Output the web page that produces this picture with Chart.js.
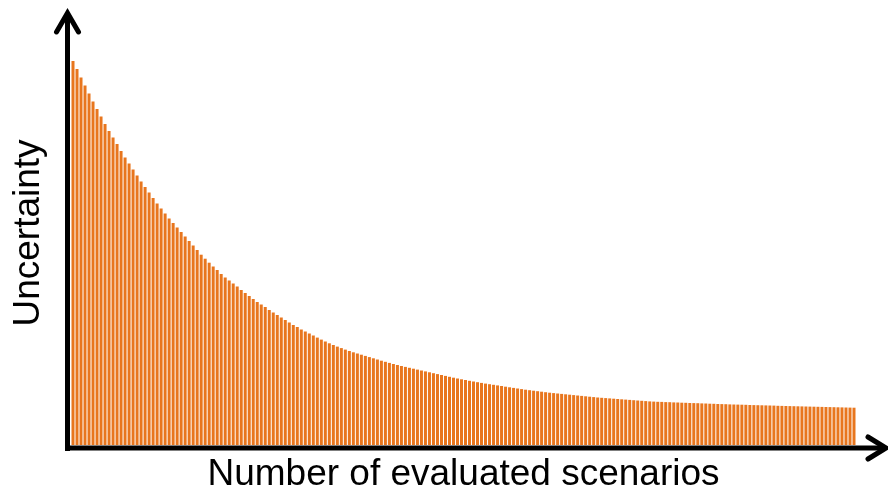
<!DOCTYPE html>
<html>
<head>
<meta charset="utf-8">
<title>Uncertainty vs evaluated scenarios</title>
<script src="https://cdn.jsdelivr.net/npm/chart.js@4.4.1/dist/chart.umd.min.js"></script>
<style>
  html, body { margin: 0; padding: 0; background: #ffffff; }
  #wrap { width: 888px; height: 495px; position: relative; }
</style>
</head>
<body>
<div id="wrap"><canvas id="uncertaintyChart"></canvas></div>
<script>
// Uncertainty for each evaluated scenario (arbitrary units)
const uncertainty = [
  384, 376, 367.5, 359.5, 351.5, 343.5, 336, 328.5, 321, 314,
  307.5, 301, 294, 287.5, 281.5, 275.5, 269.5, 263.5, 258, 252.5,
  247, 241.5, 236.5, 231.5, 226.5, 222, 217.5, 213, 208.5, 204,
  199.5, 195, 190.3, 186.3, 182.3, 178.5, 175, 171, 167.5, 164.5,
  161.5, 158.5, 155, 152, 149, 146, 143, 140.5, 138, 135,
  132.5, 130, 127.5, 125, 122.5, 120, 118, 115.5, 113.5, 111.5,
  109.5, 107.4, 105.4, 103.5, 101.7, 100, 98.4, 96.9, 95.4, 94,
  92.7, 91.5, 90.3, 89.1, 87.9, 86.7, 85.5, 84.3, 83.2, 82.1,
  81, 80, 79, 78.1, 77.2, 76.3, 75.4, 74.5, 73.6, 72.7,
  71.8, 70.9, 70, 69.1, 68.2, 67.3, 66.5, 65.7, 65, 64.2,
  63.5, 62.8, 62.1, 61.4, 60.8, 60.2, 59.6, 59, 58.3, 57.7,
  57.1, 56.5, 55.9, 55.3, 54.8, 54.3, 53.8, 53.3, 52.8, 52.3,
  51.9, 51.5, 51.1, 50.7, 50.3, 49.9, 49.5, 49.1, 48.7, 48.3,
  47.9, 47.5, 47.2, 46.9, 46.6, 46.3, 46, 45.7, 45.4, 45.1,
  44.8, 44.5, 44.2, 43.9, 43.6, 43.4, 43.2, 43.1, 42.9, 42.8,
  42.6, 42.5, 42.3, 42.2, 42, 41.9, 41.8, 41.6, 41.5, 41.3,
  41.2, 41, 40.9, 40.8, 40.6, 40.5, 40.4, 40.3, 40.2, 40,
  39.9, 39.8, 39.7, 39.6, 39.5, 39.4, 39.2, 39.1, 39, 38.9,
  38.8, 38.7, 38.6, 38.5, 38.4, 38.3, 38.2, 38.1, 38, 37.9,
  37.8, 37.7, 37.6, 37.5, 37.4, 37.3
];

// scenario number for each bar
const scenarios = uncertainty.map((_, i) => String(i + 1));

const yMax = 424;
const xTitle = 'Number of evaluated scenarios';
const yTitle = 'Uncertainty';

const FONT = '"Liberation Sans", Arial, sans-serif';

// thick black axes with open arrow heads, drawn on top of the bars
const arrowAxes = {
  id: 'arrowAxes',
  afterDraw(chart) {
    const { ctx, chartArea } = chart;
    const ax = chartArea.left - 3.5;   // y axis line
    const ay = chartArea.bottom + 3;   // x axis line
    ctx.save();
    ctx.strokeStyle = '#000000';
    ctx.lineWidth = 5;
    ctx.lineCap = 'butt';
    ctx.lineJoin = 'miter';

    ctx.beginPath();
    ctx.moveTo(ax, ay + 3);
    ctx.lineTo(ax, 14);
    ctx.moveTo(ax - 2.5, ay);
    ctx.lineTo(885, ay);
    ctx.stroke();

    ctx.lineCap = 'round';
    ctx.beginPath();
    ctx.moveTo(ax - 11, 32);
    ctx.lineTo(ax, 13);
    ctx.lineTo(ax + 11, 32);
    ctx.moveTo(868, ay - 11);
    ctx.lineTo(886, ay);
    ctx.lineTo(868, ay + 11);
    ctx.stroke();
    ctx.restore();
  }
};

const ctx = document.getElementById('uncertaintyChart').getContext('2d');
new Chart(ctx, {
  type: 'bar',
  data: {
    labels: scenarios,
    datasets: [{
      label: yTitle,
      data: uncertainty,
      backgroundColor: '#E8761E',
      borderWidth: 0,
      barPercentage: 0.75,
      categoryPercentage: 1.0
    }]
  },
  options: {
    responsive: true,
    maintainAspectRatio: false,
    animation: false,
    layout: { padding: { left: 0, right: 32, top: 21, bottom: 0 } },
    plugins: {
      legend: { display: false },
      tooltip: { enabled: false }
    },
    scales: {
      x: {
        offset: true,
        grid: { display: false, drawTicks: false },
        border: { display: false },
        ticks: { display: false },
        title: {
          display: true,
          text: xTitle,
          color: '#000000',
          font: { family: FONT, size: 37, lineHeight: 1 },
          padding: { top: 11.5, bottom: 1.5 }
        }
      },
      y: {
        min: 0,
        max: yMax,
        grid: { display: false, drawTicks: false },
        border: { display: false },
        ticks: { display: false },
        title: {
          display: true,
          text: yTitle,
          color: '#000000',
          font: { family: FONT, size: 37, lineHeight: 1 },
          padding: { top: 10.5, bottom: 23.5 }
        }
      }
    }
  },
  plugins: [arrowAxes]
});
</script>
</body>
</html>
